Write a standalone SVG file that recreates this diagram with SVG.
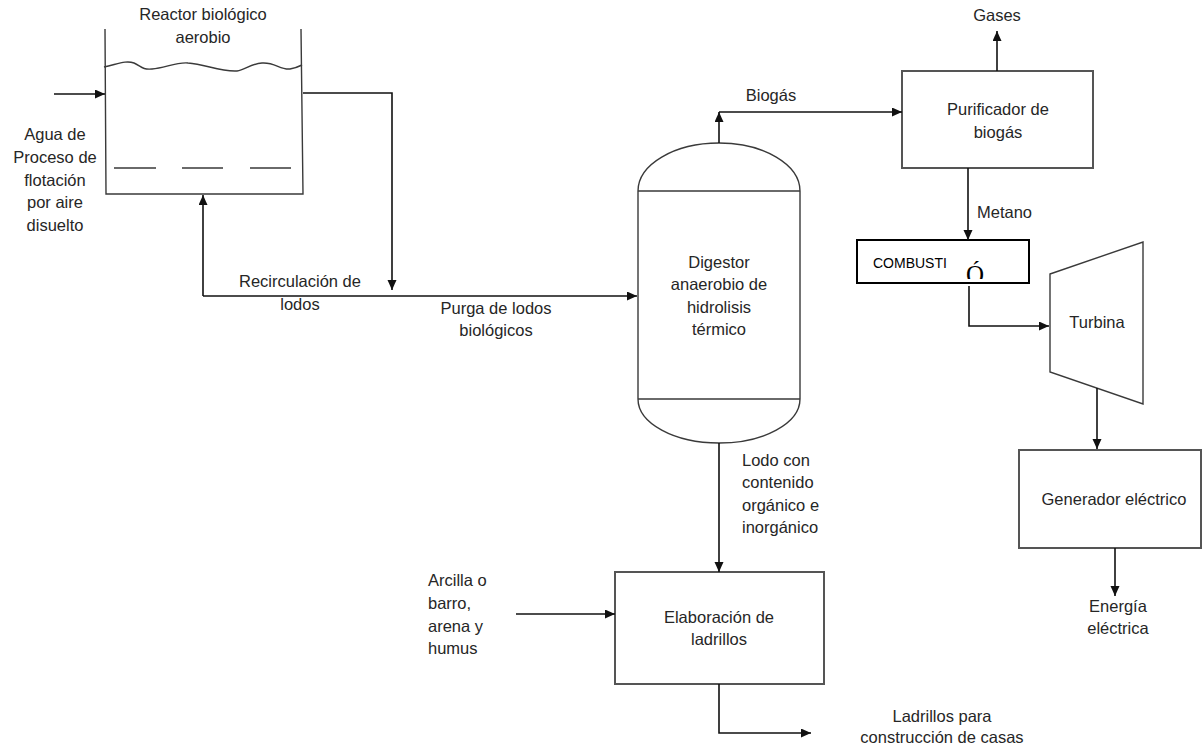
<svg xmlns="http://www.w3.org/2000/svg" width="1204" height="748" viewBox="0 0 1204 748">
<style>
text{font-family:"Liberation Sans",Arial,sans-serif;font-size:16.5px;fill:#262626}
.c{text-anchor:middle}
.box{fill:#fff;stroke:#555;stroke-width:2}
.shape{fill:none;stroke:#3a3a3a;stroke-width:1.4}
.conn{fill:none;stroke:#111;stroke-width:1.6}
.arr{marker-end:url(#ah)}
</style>
<defs>
<marker id="ah" markerUnits="userSpaceOnUse" markerWidth="10" markerHeight="10" refX="10" refY="4.5" orient="auto">
<path d="M0,0 L10,4.5 L0,9 z" fill="#111"/>
</marker>
<clipPath id="combClip"><rect x="858" y="241" width="170" height="38"/></clipPath>
</defs>
<rect width="1204" height="748" fill="#fff"/>

<g id="reactor">
<path class="shape" d="M105,29 L106,194 L303,194 L301,29"/>
<path class="shape" d="M104,67 C118,64 126,60 134,63 C141,66 142,70 152,69 C165,68 176,62 188,63 C205,64 220,72 237,71 C245,70 250,64 262,63 C275,62 280,70 290,69 C296,68 300,66 302,65"/>
<path class="shape" d="M114,168 H156 M182,168 H223 M250,168 H291"/>
<text class="c" x="203" y="20">Reactor biológico</text>
<text class="c" x="203" y="43">aerobio</text>
</g>

<g id="agua-label">
<text class="c" x="55" y="140">Agua de</text>
<text class="c" x="55" y="163">Proceso de</text>
<text class="c" x="55" y="186">flotación</text>
<text class="c" x="55" y="208">por aire</text>
<text class="c" x="55" y="231">disuelto</text>
</g>

<g id="digestor">
<path class="shape" d="M638,191 A81,48 0 0 1 800,191 V399 A81,44 0 0 1 638,399 Z"/>
<path class="shape" d="M638,191 H800 M638,399 H800"/>
<text class="c" x="719" y="268">Digestor</text>
<text class="c" x="719" y="290">anaerobio de</text>
<text class="c" x="719" y="313">hidrolisis</text>
<text class="c" x="719" y="335">térmico</text>
</g>

<g id="purificador">
<rect class="box" x="902" y="71" width="191" height="97"/>
<text class="c" x="998" y="115">Purificador de</text>
<text class="c" x="998" y="138">biogás</text>
</g>

<g id="combustion">
<rect x="857" y="240" width="172" height="43" fill="#fff" stroke="#000" stroke-width="2"/>
<text x="873" y="268" style="font-size:14px;fill:#000">COMBUSTI</text>
<text x="966" y="283" clip-path="url(#combClip)" style="font-family:'Liberation Serif','Times New Roman',serif;font-size:25px;fill:#000">Ó</text>
</g>

<g id="turbina">
<path class="shape" d="M1050,274 L1143,242 L1143,404 L1050,372 Z"/>
<text class="c" x="1097" y="328">Turbina</text>
</g>

<g id="generador">
<rect class="box" x="1019" y="450" width="182" height="98"/>
<text class="c" x="1114" y="505">Generador eléctrico</text>
</g>

<g id="ladrillos">
<rect class="box" x="615" y="572" width="209" height="112"/>
<text class="c" x="719" y="623">Elaboración de</text>
<text class="c" x="719" y="645">ladrillos</text>
</g>

<g id="connectors">
<path class="conn arr" d="M54,94 H105"/>
<path class="conn arr" d="M303,93 H392 V290"/>
<path class="conn arr" d="M203,296 V195"/>
<path class="conn arr" d="M203,296 H637"/>
<path class="conn arr" d="M719,143 V112"/>
<path class="conn arr" d="M719,112 H902"/>
<path class="conn arr" d="M997,71 V31"/>
<path class="conn arr" d="M968,168 V240"/>
<path class="conn arr" d="M969,286 V326 H1049"/>
<path class="conn arr" d="M1097,388 V449"/>
<path class="conn arr" d="M1115,548 V596"/>
<path class="conn arr" d="M719,443 V572"/>
<path class="conn arr" d="M516,614 H615"/>
<path class="conn arr" d="M719,684 V733 H811"/>
</g>

<g id="labels">
<text class="c" x="300" y="287">Recirculación de</text>
<text class="c" x="300" y="310">lodos</text>
<text class="c" x="496" y="314">Purga de lodos</text>
<text class="c" x="496" y="336">biológicos</text>
<text class="c" x="771" y="101">Biogás</text>
<text class="c" x="997" y="21">Gases</text>
<text x="977" y="218">Metano</text>
<text class="c" x="1118" y="612">Energía</text>
<text class="c" x="1118" y="634">eléctrica</text>
<text x="742" y="466">Lodo con</text>
<text x="742" y="488">contenido</text>
<text x="742" y="511">orgánico e</text>
<text x="742" y="533">inorgánico</text>
<text x="428" y="586">Arcilla o</text>
<text x="428" y="609">barro,</text>
<text x="428" y="632">arena y</text>
<text x="428" y="654">humus</text>
<text class="c" x="942" y="722">Ladrillos para</text>
<text class="c" x="942" y="743">construcción de casas</text>
</g>
</svg>
